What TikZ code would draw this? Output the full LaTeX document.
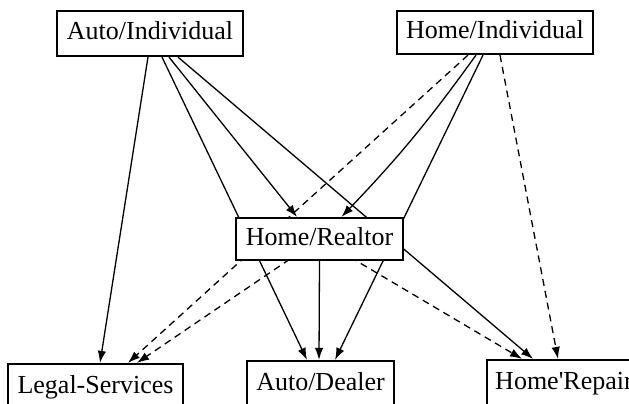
\documentclass[tikz,border=0pt]{standalone}
\usepackage{fontspec}
\setmainfont{Liberation Serif}
\usetikzlibrary{arrows.meta}
\pgfdeclarelayer{bg}
\pgfsetlayers{bg,main}
\begin{document}
\begin{tikzpicture}[x=1pt,y=-1pt,
  box/.style={draw,line width=2.2pt,fill=white,inner sep=0pt,
    font=\fontsize{26}{28}\selectfont,text height=17pt,text depth=5pt},
  edge/.style={line width=1.3pt,-{Latex[length=12pt,width=8.5pt]}},
  dedge/.style={edge,dash pattern=on 7pt off 5pt}]
\useasboundingbox (0,0) rectangle (629,404);
\clip (0,0) rectangle (629,404);
\node[box,minimum width=186pt,minimum height=45pt] (ai) at (150,33.5) {Auto/Individual};
\node[box,minimum width=196pt,minimum height=43pt] (hi) at (495,32.5) {Home/Individual};
\node[box,minimum width=167pt,minimum height=42pt] (hr) at (319.5,239) {Home/Realtor};
\node[box,minimum width=175pt,minimum height=46pt] (ls) at (95.5,387) {Legal-Services};
\node[box,minimum width=147pt,minimum height=46pt] (ad) at (320.5,384) {Auto/Dealer};
\node[box,minimum width=154pt,minimum height=46pt] (rep) at (564,383) {Home\textquotesingle Repair};
\begin{pgfonlayer}{bg}
\clip (0,0) rectangle (629,404);
% from Auto/Individual
\draw[edge] ([xshift=-2pt]ai.south) -- ([xshift=4.5pt]ls.north);
\draw[edge] ([xshift=12pt]ai.south) -- ([xshift=-13.5pt]ad.north);
\draw[edge] ([xshift=19pt]ai.south) -- ([xshift=-22.5pt]hr.north);
\draw[edge] ([xshift=28pt]ai.south) -- ([xshift=-31pt]rep.north);
% from Home/Individual
\draw[dedge] ([xshift=-27pt]hi.south) -- ([xshift=32.5pt]ls.north);
\draw[edge] ([xshift=-19pt]hi.south) to[bend left=4] ([xshift=22pt]hr.north);
\draw[edge] ([xshift=-12pt]hi.south) -- ([xshift=14.5pt]ad.north);
\draw[dedge] ([xshift=5pt]hi.south) -- ([xshift=-6pt]rep.north);
% from Home/Realtor
\draw[dedge] (hr.center) -- ([xshift=41.5pt]ls.north);
\draw[edge] (hr.south) -- ([xshift=-1.5pt]ad.north);
\draw[dedge] (hr.center) -- ([xshift=-42pt]rep.north);
\end{pgfonlayer}
\end{tikzpicture}
\end{document}
